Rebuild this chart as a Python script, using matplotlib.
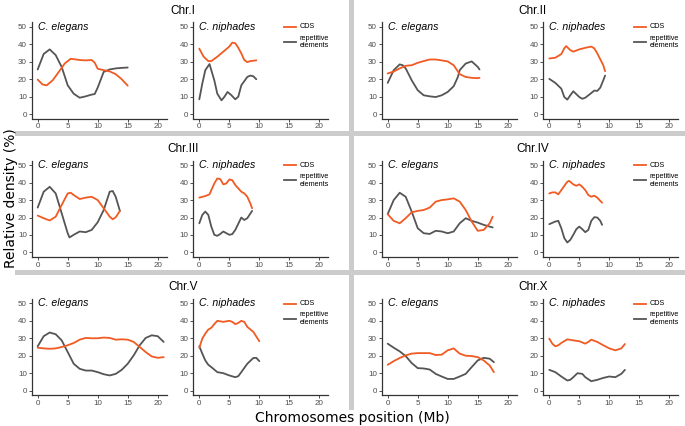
import matplotlib

matplotlib.use("Agg")
import matplotlib.pyplot as plt
from matplotlib.lines import Line2D

W, H = 685, 426
CDS_COLOR = "#f15a22"
REP_COLOR = "#555555"
SEP_COLOR = "#cccccc"
SANS = ["Liberation Sans", "DejaVu Sans"]

# ---- data (Mb, relative density %) ----
chr1_el_cds_x = [0, 0.8, 1.5, 2.5, 3.6, 4.5, 5.5, 6, 7, 8, 9, 9.5, 10, 11.5, 12, 13, 14, 15]
chr1_el_cds = [19.8, 17.0, 16.5, 19.4, 24.6, 29.0, 31.7, 31.5, 31.0, 30.8, 31.0, 29.5, 26.0, 24.8, 24.5, 22.9, 20.0, 16.3]
chr1_el_rep_x = [0, 1, 2, 3, 4, 5, 6, 7, 8, 9, 9.5, 10, 11, 12, 13, 14, 15]
chr1_el_rep = [25.6, 34.5, 37.1, 33.8, 27.0, 16.5, 11.7, 9.4, 10.2, 11.2, 11.5, 15.2, 24.2, 25.6, 26.2, 26.5, 26.7]

chr1_ni_cds_x = [0, 0.7, 1.5, 2, 3, 4, 5, 5.5, 6, 6.5, 7, 7.5, 8, 8.5, 9.5]
chr1_ni_cds = [37.5, 33.0, 30.4, 30.4, 32.9, 35.8, 38.7, 41.0, 40.6, 38.0, 34.8, 31.0, 29.8, 30.4, 30.8]
chr1_ni_rep_x = [0, 0.5, 1, 1.7, 2.5, 3, 3.7, 4.2, 4.7, 5.3, 6, 6.5, 7, 8, 8.5, 9, 9.5]
chr1_ni_rep = [8.5, 17.5, 25.2, 28.7, 19.4, 11.7, 7.9, 10.0, 12.7, 11.0, 8.5, 10.0, 16.5, 21.3, 22.1, 21.7, 20.0]

chr2_el_cds_x = [0, 1, 2, 3, 4, 5, 6, 7, 8, 9, 10, 11, 12, 13, 14, 15, 15.3]
chr2_el_cds = [23.3, 24.4, 26.2, 27.7, 28.0, 29.4, 30.4, 31.3, 31.3, 30.8, 30.2, 28.0, 22.9, 21.3, 20.8, 20.6, 20.8]
chr2_el_rep_x = [0, 1, 2, 2.5, 3, 4, 5, 6, 7, 8, 9, 10, 11, 11.7, 12, 13, 14, 15, 15.3]
chr2_el_rep = [17.9, 25.2, 28.5, 28.0, 26.2, 19.4, 13.7, 10.8, 10.2, 9.8, 10.8, 12.7, 16.0, 21.3, 25.2, 29.0, 30.2, 27.1, 25.6]

chr2_ni_cds_x = [0, 1, 2, 2.5, 2.8, 3.5, 4, 5, 6, 7, 7.5, 8, 9, 9.3]
chr2_ni_cds = [31.9, 32.3, 34.4, 37.7, 39.0, 36.7, 35.8, 37.1, 38.0, 38.7, 37.7, 34.8, 28.0, 24.6]
chr2_ni_rep_x = [0, 1, 2, 2.5, 3, 3.5, 4, 5, 5.5, 6, 7, 7.5, 8, 8.5, 9, 9.3]
chr2_ni_rep = [20.2, 17.9, 14.6, 9.8, 8.3, 10.8, 13.1, 9.8, 8.8, 9.4, 12.1, 13.5, 13.3, 15.2, 19.4, 22.1]

chr3_el_cds_x = [0, 1, 2, 3, 4, 5, 5.5, 6, 7, 8, 9, 10, 11, 12, 12.5, 13, 13.7]
chr3_el_cds = [21.1, 19.6, 18.3, 20.5, 27.2, 33.8, 34.2, 32.9, 30.6, 31.4, 31.9, 30.0, 25.3, 20.5, 19.0, 20.1, 23.8]
chr3_el_rep_x = [0, 1, 2, 3, 4, 5, 5.3, 6, 7, 8, 9, 10, 11, 12, 12.5, 13, 13.7]
chr3_el_rep = [25.7, 34.8, 37.6, 33.8, 22.4, 11.0, 8.6, 10.1, 12.0, 11.6, 12.9, 17.3, 24.3, 34.8, 35.2, 31.9, 23.8]

chr3_ni_cds_x = [0, 1, 1.7, 2.5, 3, 3.5, 4, 4.5, 5, 5.5, 6, 7, 7.5, 8, 8.5, 8.8]
chr3_ni_cds = [31.4, 32.3, 33.3, 39.5, 42.4, 42.0, 39.0, 39.5, 41.8, 41.4, 38.6, 34.8, 33.8, 31.9, 28.1, 25.3]
chr3_ni_rep_x = [0, 0.5, 1, 1.5, 2, 2.5, 3, 3.5, 4, 5, 5.5, 6, 7, 7.5, 8, 8.8]
chr3_ni_rep = [16.7, 21.5, 23.4, 21.5, 14.8, 10.1, 9.5, 10.6, 12.0, 10.1, 10.5, 12.9, 20.0, 18.6, 19.6, 23.8]

chr4_el_x = [0, 1, 2, 3, 4, 5, 6, 7, 8, 9, 10, 11, 12, 13, 14, 15, 16, 17, 17.5]
chr4_el_cds = [21.9, 18.1, 16.7, 19.6, 23.0, 23.8, 24.3, 25.7, 29.1, 30.0, 30.4, 31.0, 29.1, 24.3, 17.7, 12.4, 12.9, 16.7, 20.5]
chr4_el_rep = [22.0, 30.0, 34.2, 31.9, 23.4, 13.9, 11.0, 10.6, 12.4, 12.0, 11.0, 12.0, 16.7, 19.6, 18.1, 17.1, 15.8, 14.8, 14.3]

chr4_ni_cds_x = [0, 0.5, 1, 1.5, 2, 3, 3.3, 4, 4.5, 5, 5.5, 6, 6.5, 7, 7.5, 8, 8.5, 8.8]
chr4_ni_cds = [33.8, 34.4, 34.4, 33.3, 35.7, 40.5, 41.0, 39.0, 38.2, 39.0, 37.6, 35.7, 32.9, 31.9, 32.5, 31.4, 29.5, 28.5]
chr4_ni_rep_x = [0, 1, 1.5, 2, 2.5, 3, 3.5, 4, 4.5, 5, 5.5, 6, 6.5, 7, 7.5, 8, 8.5, 8.8]
chr4_ni_rep = [16.2, 17.7, 18.1, 13.9, 8.2, 5.7, 7.2, 10.1, 13.3, 14.8, 13.3, 11.6, 12.9, 18.1, 20.2, 20.0, 18.1, 15.8]

chr5_el_x = [0, 1, 2, 3, 4, 5, 6, 7, 8, 9, 10, 11, 12, 13, 14, 15, 16, 17, 18, 19, 20, 21]
chr5_el_cds = [24.6, 24.2, 24.0, 24.2, 25.0, 26.0, 27.3, 29.2, 30.2, 30.0, 30.0, 30.4, 30.2, 29.2, 29.4, 29.2, 27.9, 25.0, 22.1, 19.6, 18.8, 19.2]
chr5_el_rep = [25.4, 31.2, 33.3, 32.3, 28.8, 22.1, 15.4, 12.5, 11.5, 11.5, 10.6, 9.4, 8.7, 9.6, 11.9, 15.4, 20.2, 26.0, 30.2, 31.7, 31.2, 27.9]

chr5_ni_cds_x = [0, 0.5, 1, 1.5, 2, 2.5, 3, 4, 5, 5.5, 6, 6.5, 7, 7.5, 8, 9, 10]
chr5_ni_cds = [24.6, 29.8, 32.7, 35.0, 36.0, 38.1, 40.0, 39.4, 40.0, 39.4, 38.1, 38.8, 40.0, 39.4, 36.5, 33.7, 28.3]
chr5_ni_rep_x = [0, 0.5, 1, 1.5, 2, 3, 4, 5, 6, 6.5, 7, 8, 9, 9.5, 10]
chr5_ni_rep = [25.4, 21.2, 17.3, 14.8, 13.5, 10.6, 10.0, 8.7, 7.7, 8.3, 10.6, 15.4, 18.7, 18.8, 16.9]

chrx_el_x = [0, 1, 2, 3, 4, 5, 6, 7, 8, 9, 10, 11, 12, 13, 14, 15, 16, 17, 17.7]
chrx_el_cds = [14.8, 16.9, 18.7, 20.2, 21.2, 21.5, 21.5, 21.5, 20.4, 20.6, 23.1, 24.2, 21.2, 20.0, 19.8, 19.2, 17.3, 14.4, 10.6]
chrx_el_rep = [26.9, 24.6, 22.5, 19.8, 15.8, 12.9, 12.7, 12.1, 9.6, 8.1, 6.7, 6.7, 8.1, 9.6, 13.5, 17.3, 18.8, 18.3, 16.3]

chrx_ni_cds_x = [0, 0.5, 1, 1.5, 2, 3, 4, 5, 6, 6.5, 7, 8, 9, 10, 11, 12, 12.6]
chrx_ni_cds = [29.8, 26.9, 25.4, 26.0, 27.3, 29.4, 28.8, 28.3, 26.9, 27.9, 29.2, 27.9, 26.0, 24.2, 23.1, 24.2, 26.7]
chrx_ni_rep_x = [0, 1, 2, 3, 3.5, 4, 4.7, 5.5, 6, 7, 8, 9, 10, 11, 12, 12.6]
chrx_ni_rep = [11.9, 10.6, 8.1, 5.8, 6.2, 7.7, 10.0, 9.6, 7.7, 5.4, 6.2, 7.3, 8.1, 7.7, 9.6, 11.9]

chrom_titles = ["Chr.I", "Chr.II", "Chr.III", "Chr.IV", "Chr.V", "Chr.X"]
species = ["C. elegans", "C. niphades"]
x_ticks = [0, 5, 10, 15, 20]
y_ticks = [0, 10, 20, 30, 40, 50]

panels = [
    [(chr1_el_cds_x, chr1_el_cds, chr1_el_rep_x, chr1_el_rep),
     (chr1_ni_cds_x, chr1_ni_cds, chr1_ni_rep_x, chr1_ni_rep)],
    [(chr2_el_cds_x, chr2_el_cds, chr2_el_rep_x, chr2_el_rep),
     (chr2_ni_cds_x, chr2_ni_cds, chr2_ni_rep_x, chr2_ni_rep)],
    [(chr3_el_cds_x, chr3_el_cds, chr3_el_rep_x, chr3_el_rep),
     (chr3_ni_cds_x, chr3_ni_cds, chr3_ni_rep_x, chr3_ni_rep)],
    [(chr4_el_x, chr4_el_cds, chr4_el_x, chr4_el_rep),
     (chr4_ni_cds_x, chr4_ni_cds, chr4_ni_rep_x, chr4_ni_rep)],
    [(chr5_el_x, chr5_el_cds, chr5_el_x, chr5_el_rep),
     (chr5_ni_cds_x, chr5_ni_cds, chr5_ni_rep_x, chr5_ni_rep)],
    [(chrx_el_x, chrx_el_cds, chrx_el_x, chrx_el_rep),
     (chrx_ni_cds_x, chrx_ni_cds, chrx_ni_rep_x, chrx_ni_rep)],
]

# pixel layout
col_lefts = [(31.7, 193.3), (381.7, 543.3)]
row_tops = [22.5, 160.8, 299.0]
AX_W, AX_H = 135.0, 96.0


def fx(px):
    return px / W


def fy(py):
    return 1 - py / H


def style_axes(ax):
    ax.set_xlim(-1, 21.5)
    ax.set_ylim(-2.5, 52.5)
    ax.set_xticks(x_ticks)
    ax.set_yticks(y_ticks)
    for side in ["top", "right"]:
        ax.spines[side].set_visible(False)
    for side in ["left", "bottom"]:
        ax.spines[side].set_color("#333333")
        ax.spines[side].set_linewidth(0.9)
    ax.tick_params(length=2, width=0.6, color="#333333", labelsize=5.8,
                   labelcolor="#4d4d4d", pad=1.5)
    for lab in ax.get_xticklabels() + ax.get_yticklabels():
        lab.set_family(SANS)
    ax.patch.set_alpha(0)


fig = plt.figure(figsize=(W / 100, H / 100), dpi=100)

for i, (title, pair) in enumerate(zip(chrom_titles, panels)):
    row, col = divmod(i, 2)
    top = row_tops[row]
    for j, (cx, cy, rx, ry) in enumerate(pair):
        left = col_lefts[col][j]
        ax = fig.add_axes([fx(left), fy(top + AX_H), AX_W / W, AX_H / H])
        style_axes(ax)
        ax.plot(rx, ry, color=REP_COLOR, lw=1.3, solid_joinstyle="round",
                solid_capstyle="round")
        ax.plot(cx, cy, color=CDS_COLOR, lw=1.3, solid_joinstyle="round",
                solid_capstyle="round")
        ax.text(0, 50, species[j], ha="left", va="center", fontsize=7.6,
                style="italic", family=SANS)

    # chromosome title
    cx_title = col_lefts[col][0] + 151
    fig.text(fx(cx_title), fy(top - 12), title, ha="center", va="center",
             fontsize=8.5, family=SANS)

    # legend
    leg_x = col_lefts[col][1] + 91
    fig.add_artist(Line2D([fx(leg_x), fx(leg_x + 12)], [fy(top + 4.5)] * 2,
                          color=CDS_COLOR, lw=1.3))
    fig.add_artist(Line2D([fx(leg_x), fx(leg_x + 12)], [fy(top + 19.5)] * 2,
                          color=REP_COLOR, lw=1.3))
    fig.text(fx(leg_x + 15), fy(top + 4.5), "CDS", ha="left", va="center",
             fontsize=5.2, family=SANS)
    fig.text(fx(leg_x + 15), fy(top + 19.5), "repetitive\nelements", ha="left",
             va="center", fontsize=5.2, family=SANS, linespacing=1.15)

# separators
fig.add_artist(Line2D([fx(351), fx(351)], [fy(0), fy(407)], color=SEP_COLOR, lw=3.6))
for ysep in [133, 272]:
    fig.add_artist(Line2D([fx(17), fx(685)], [fy(ysep)] * 2, color=SEP_COLOR, lw=3.6))

fig.text(fx(352), fy(418), "Chromosomes position (Mb)", ha="center", va="center",
         fontsize=10, family="DejaVu Sans")
fig.text(fx(11), fy(198), "Relative density (%)", ha="center", va="center",
         rotation=90, fontsize=10, family="DejaVu Sans")

fig.savefig("out.png", dpi=100)
